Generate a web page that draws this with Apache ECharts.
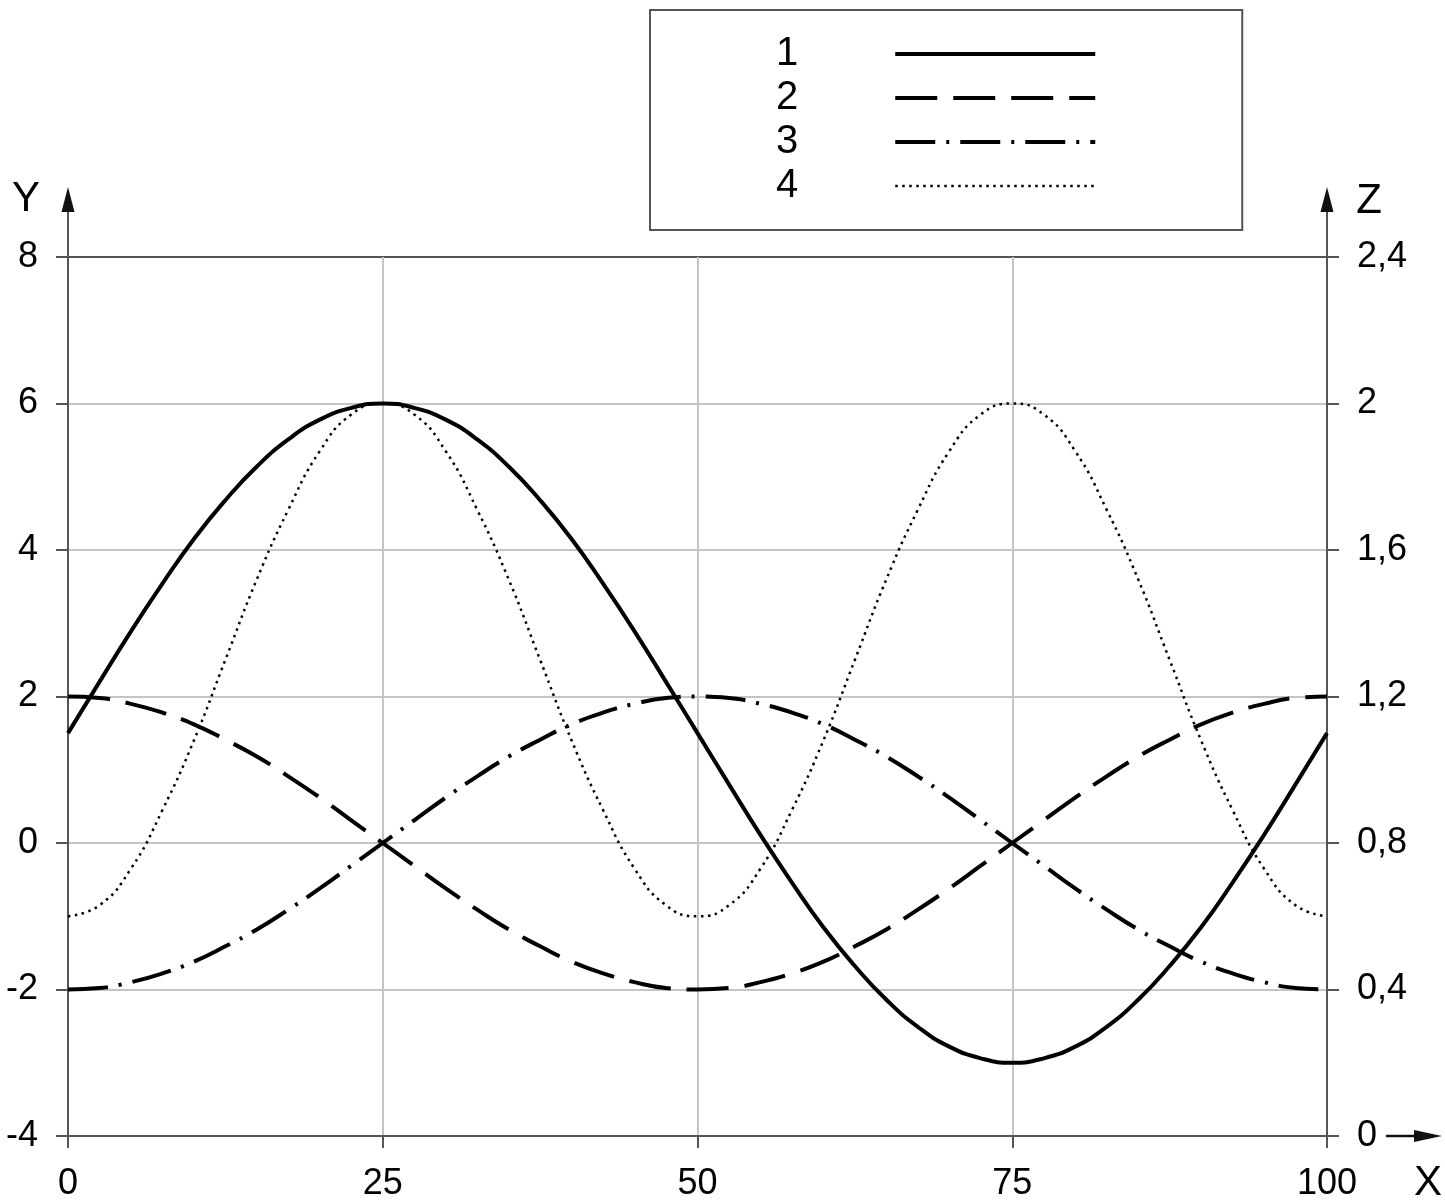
<!DOCTYPE html>
<html>
<head>
<meta charset="utf-8">
<script src="https://cdn.jsdelivr.net/npm/echarts@6/dist/echarts.min.js"></script>
<style>
  html, body { margin: 0; padding: 0; background: #fff; }
  #chart { width: 1445px; height: 1203px; }
</style>
</head>
<body>
<div id="chart"></div>
<script>
// x positions
const xValues = [0, 2.5, 5, 7.5, 10, 12.5, 15, 17.5, 20, 22.5, 25, 27.5, 30, 32.5, 35, 37.5, 40, 42.5, 45, 47.5,
  50, 52.5, 55, 57.5, 60, 62.5, 65, 67.5, 70, 72.5, 75, 77.5, 80, 82.5, 85, 87.5, 90, 92.5, 95, 97.5, 100];

// curve 1 (Y), solid
const curve1 = [1.5, 2.2, 2.89, 3.54, 4.15, 4.68, 5.14, 5.51, 5.78, 5.94, 6.0, 5.94, 5.78, 5.51, 5.14, 4.68, 4.15, 3.54, 2.89, 2.2,
  1.5, 0.8, 0.11, -0.54, -1.15, -1.68, -2.14, -2.51, -2.78, -2.94, -3.0, -2.94, -2.78, -2.51, -2.14, -1.68, -1.15, -0.54, 0.11, 0.8, 1.5];
// curve 2 (Y), dashed
const curve2 = [2.0, 1.98, 1.9, 1.78, 1.62, 1.41, 1.18, 0.91, 0.62, 0.31, 0, -0.31, -0.62, -0.91, -1.18, -1.41, -1.62, -1.78, -1.9, -1.98,
  -2.0, -1.98, -1.9, -1.78, -1.62, -1.41, -1.18, -0.91, -0.62, -0.31, 0, 0.31, 0.62, 0.91, 1.18, 1.41, 1.62, 1.78, 1.9, 1.98, 2.0];
// curve 3 (Y), dash-dot
const curve3 = [-2.0, -1.98, -1.9, -1.78, -1.62, -1.41, -1.18, -0.91, -0.62, -0.31, 0, 0.31, 0.62, 0.91, 1.18, 1.41, 1.62, 1.78, 1.9, 1.98,
  2.0, 1.98, 1.9, 1.78, 1.62, 1.41, 1.18, 0.91, 0.62, 0.31, 0, -0.31, -0.62, -0.91, -1.18, -1.41, -1.62, -1.78, -1.9, -1.98, -2.0];
// curve 4 (Z), dotted
const curve4 = [0.6, 0.63, 0.73, 0.89, 1.08, 1.3, 1.52, 1.71, 1.87, 1.97, 2.0, 1.97, 1.87, 1.71, 1.52, 1.3, 1.08, 0.89, 0.73, 0.63,
  0.6, 0.63, 0.73, 0.89, 1.08, 1.3, 1.52, 1.71, 1.87, 1.97, 2.0, 1.97, 1.87, 1.71, 1.52, 1.3, 1.08, 0.89, 0.73, 0.63, 0.6];

const seriesNames = ["1", "2", "3", "4"];
const yRange = { min: -4, max: 8, interval: 2 };
const zRange = { min: 0, max: 2.4, interval: 0.4 };
const xRange = { min: 0, max: 100, interval: 25 };

const FONT = "'Liberation Sans', Arial, sans-serif";
const AXIS = "#555";
const GRIDC = "#c4c4c4";

function pairs(xs, ys) {
  return xs.map((x, i) => [x, ys[i]]);
}

const myChart = echarts.init(document.getElementById("chart"));

// grid box
const L = 68, R = 1327, T = 257, B = 1136;

myChart.setOption({
  backgroundColor: "#fff",
  animation: false,
  textStyle: { fontFamily: FONT, color: "#000" },
  grid: { left: L, right: 1445 - R, top: T, bottom: 1203 - B, containLabel: false },
  legend: {
    orient: "vertical",
    left: 650,
    top: 10,
    align: "right",
    data: seriesNames,
    padding: [24, 145, 24, 126],
    itemGap: 4,
    itemWidth: 200,
    itemHeight: 14,
    borderColor: AXIS,
    borderWidth: 2,
    lineStyle: { width: "inherit" },
    itemStyle: { opacity: 0, borderWidth: 0 },
    textStyle: { fontSize: 40, lineHeight: 40, color: "#000", padding: [0, 92, 0, 0] },
  },
  xAxis: {
    type: "value",
    min: xRange.min,
    max: xRange.max,
    interval: xRange.interval,
    axisLine: { show: true, onZero: false, lineStyle: { color: AXIS, width: 2 } },
    axisTick: { show: true, inside: false, length: 12, lineStyle: { color: AXIS, width: 2 } },
    axisLabel: { fontSize: 36, margin: 30, color: "#000" },
    splitLine: { show: true, lineStyle: { color: GRIDC, width: 2 } },
  },
  yAxis: [
    {
      type: "value",
      position: "left",
      min: yRange.min,
      max: yRange.max,
      interval: yRange.interval,
      axisLine: { show: true, onZero: false, lineStyle: { color: AXIS, width: 2 } },
      axisTick: { show: true, inside: false, length: 12, lineStyle: { color: AXIS, width: 2 } },
      axisLabel: { fontSize: 36, margin: 30, color: "#000" },
      splitLine: {
        show: true,
        lineStyle: { color: [AXIS, GRIDC, GRIDC, GRIDC, GRIDC, GRIDC, AXIS], width: 2 },
      },
    },
    {
      type: "value",
      position: "right",
      min: zRange.min,
      max: zRange.max,
      interval: zRange.interval,
      axisLine: { show: true, onZero: false, lineStyle: { color: AXIS, width: 2 } },
      axisTick: { show: true, inside: false, length: 12, lineStyle: { color: AXIS, width: 2 } },
      axisLabel: {
        fontSize: 36,
        margin: 30,
        color: "#000",
        formatter: (v) => String(Math.round(v * 10) / 10).replace(".", ","),
      },
      splitLine: { show: false },
    },
  ],
  series: [
    {
      name: seriesNames[0],
      type: "line",
      yAxisIndex: 0,
      data: pairs(xValues, curve1),
      smooth: true,
      symbol: "none",
      itemStyle: { color: "#000" },
      lineStyle: { color: "#000", width: 4, type: "solid" },
    },
    {
      name: seriesNames[1],
      type: "line",
      yAxisIndex: 0,
      data: pairs(xValues, curve2),
      smooth: true,
      symbol: "none",
      itemStyle: { color: "#000" },
      lineStyle: { color: "#000", width: 4, type: [42, 16] },
    },
    {
      name: seriesNames[2],
      type: "line",
      yAxisIndex: 0,
      data: pairs(xValues, curve3),
      smooth: true,
      symbol: "none",
      itemStyle: { color: "#000" },
      lineStyle: { color: "#000", width: 4, type: [40, 11, 3, 11] },
    },
    {
      name: seriesNames[3],
      type: "line",
      yAxisIndex: 1,
      data: pairs(xValues, curve4),
      smooth: true,
      symbol: "none",
      itemStyle: { color: "#000" },
      lineStyle: { color: "#000", width: 2.5, type: [2.5, 4.5] },
    },
  ],
  graphic: [
    // axis extensions with arrow heads
    { type: "line", shape: { x1: L, y1: T, x2: L, y2: 205 }, style: { stroke: AXIS, lineWidth: 2 } },
    { type: "polygon", shape: { points: [[L, 187], [L - 6.5, 212], [L + 6.5, 212]] }, style: { fill: "#111" } },
    { type: "line", shape: { x1: R, y1: T, x2: R, y2: 205 }, style: { stroke: AXIS, lineWidth: 2 } },
    { type: "polygon", shape: { points: [[R, 187], [R - 6.5, 212], [R + 6.5, 212]] }, style: { fill: "#111" } },
    { type: "line", shape: { x1: 1386, y1: B, x2: 1420, y2: B }, style: { stroke: "#111", lineWidth: 2.5 } },
    { type: "polygon", shape: { points: [[1442, B], [1414, B - 6], [1414, B + 6]] }, style: { fill: "#111" } },
    // axis names
    { type: "text", style: { text: "Y", x: 26, y: 199, font: "42px " + FONT, fill: "#000", align: "center", verticalAlign: "middle" } },
    { type: "text", style: { text: "Z", x: 1369, y: 201, font: "42px " + FONT, fill: "#000", align: "center", verticalAlign: "middle" } },
    { type: "text", style: { text: "X", x: 1428, y: 1183, font: "42px " + FONT, fill: "#000", align: "center", verticalAlign: "middle" } },
  ],
});
</script>
</body>
</html>
